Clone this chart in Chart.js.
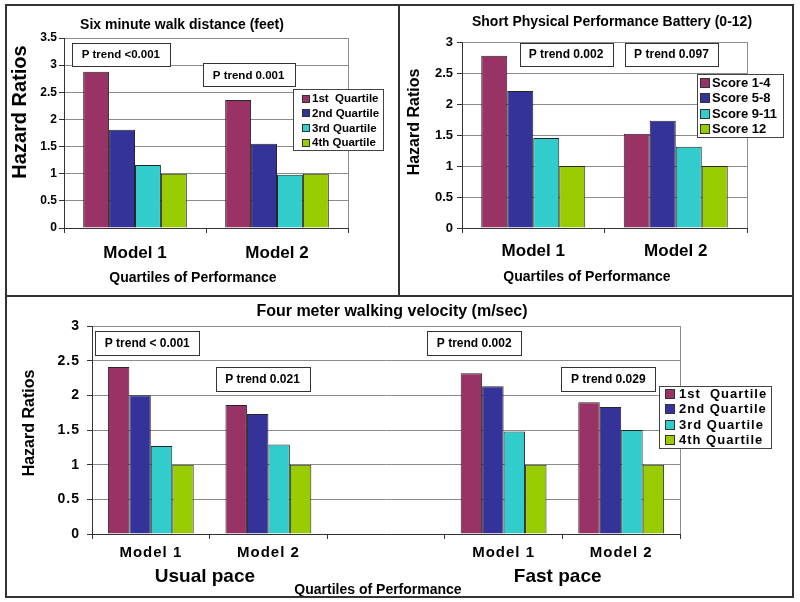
<!DOCTYPE html>
<html>
<head>
<meta charset="utf-8">
<title>Hazard ratios by physical performance</title>
<script src="https://cdn.jsdelivr.net/npm/chart.js@4.4.1/dist/chart.umd.min.js"></script>
<style>
  html, body { margin: 0; padding: 0; background: #fff; }
  body { width: 800px; height: 602px; position: relative; overflow: hidden; }
  canvas { position: absolute; }
  #c1 { left: 7px; top: 6px; }
  #c2 { left: 401px; top: 6px; }
  #c3 { left: 7px; top: 297px; }
  #frame { position: absolute; left: 5px; top: 4px; width: 789px; height: 594px; border: 2px solid #333; box-sizing: border-box; z-index: 2; }
  .rule { position: absolute; background: #333; z-index: 2; }
</style>
</head>
<body>
<div id="frame"></div>
<div class="rule" style="left:5px;top:295px;width:789px;height:2px"></div>
<div class="rule" style="left:398px;top:4px;width:2px;height:292px"></div>
<canvas id="c1" width="392" height="289"></canvas>
<canvas id="c2" width="391" height="289"></canvas>
<canvas id="c3" width="785" height="300"></canvas>
<script>
// six minute walk
const walkModels = ['Model 1', 'Model 2'];
const walkNames = ['1st  Quartile', '2nd Quartile', '3rd Quartile', '4th Quartile'];
const walkQ1 = [2.88, 2.36];
const walkQ2 = [1.81, 1.55];
const walkQ3 = [1.16, 0.98];
const walkQ4 = [1.00, 1.00];
const walkTicks = [0, 0.5, 1, 1.5, 2, 2.5, 3, 3.5];
const walkTrend = ['P trend <0.001', 'P trend 0.001'];

// SPPB
const sppbModels = ['Model 1', 'Model 2'];
const sppbNames = ['Score 1-4', 'Score 5-8', 'Score 9-11', 'Score 12'];
const sppbS1 = [2.78, 1.52];
const sppbS2 = [2.21, 1.73];
const sppbS3 = [1.45, 1.31];
const sppbS4 = [1.00, 1.00];
const sppbTicks = [0, 0.5, 1, 1.5, 2, 2.5, 3];
const sppbTrend = ['P trend 0.002', 'P trend 0.097'];

// four meter walking velocity (usual pace, gap, fast pace)
const speedModels = ['Model 1', 'Model 2', '', 'Model 1', 'Model 2'];
const speedNames = ['1st  Quartile', '2nd Quartile', '3rd Quartile', '4th Quartile'];
const speedQ1 = [2.41, 1.86, null, 2.32, 1.90];
const speedQ2 = [2.00, 1.73, null, 2.13, 1.83];
const speedQ3 = [1.27, 1.29, null, 1.48, 1.50];
const speedQ4 = [1.00, 1.00, null, 1.00, 1.00];
const speedTicks = [0, 0.5, 1, 1.5, 2, 2.5, 3];
const speedTrend = ['P trend < 0.001', 'P trend 0.021', 'P trend 0.002', 'P trend 0.029'];
const paceNames = ['Usual pace', 'Fast pace'];

const barColors = ['#993366', '#333399', '#33cccc', '#99cc00'];
const FONT = "'Liberation Sans', Arial, sans-serif";

Chart.defaults.font.family = FONT;
Chart.defaults.font.weight = 'bold';
Chart.defaults.color = '#000';

function bold(size) { return 'bold ' + size + 'px ' + FONT; }

// titles, p-trend boxes and the boxed legend
const decor = {
  id: 'decor',
  beforeDraw(chart, args, o) {
    // the bottom panel's axis text is spaced out in the original
    chart.ctx.letterSpacing = (o.spacing || 0) + 'px';
  },
  afterDraw(chart, args, o) {
    const ctx = chart.ctx, ca = chart.chartArea;
    const xs = chart.scales.x, ys = chart.scales.y;
    ctx.save();
    ctx.letterSpacing = '0px';
    ctx.strokeStyle = '#8c8c8c';
    ctx.lineWidth = 1;
    ctx.beginPath();
    ctx.moveTo(Math.round(ca.right) + 0.5, ca.top);
    ctx.lineTo(Math.round(ca.right) + 0.5, ca.bottom);
    ctx.stroke();

    ctx.fillStyle = '#000';
    ctx.textAlign = 'center';
    ctx.textBaseline = 'middle';
    ctx.font = bold(o.title.size);
    ctx.fillText(o.title.text, o.title.x, o.title.y);
    ctx.font = bold(o.xTitle.size);
    ctx.fillText(o.xTitle.text, o.xTitle.x, o.xTitle.y);
    ctx.save();
    ctx.translate(o.yTitle.x, o.yTitle.y);
    ctx.rotate(-Math.PI / 2);
    ctx.font = bold(o.yTitle.size);
    ctx.fillText(o.yTitle.text, 0, 0);
    ctx.restore();

    (o.extra || []).forEach(e => {
      ctx.font = bold(e.size);
      ctx.fillText(e.text, xs.getPixelForValue(e.cat), e.y);
    });

    ctx.font = bold(o.boxFont);
    o.boxes.forEach(b => {
      const cx = xs.getPixelForValue(b.cat), cy = ys.getPixelForValue(b.val);
      const w = Math.round(ctx.measureText(b.text).width + 2 * o.boxPad);
      const l = Math.round(cx - w / 2) + 0.5, t = Math.round(cy - o.boxH / 2) + 0.5;
      ctx.fillStyle = '#fff';
      ctx.fillRect(l, t, w, o.boxH);
      ctx.strokeStyle = '#333';
      ctx.strokeRect(l, t, w, o.boxH);
      ctx.fillStyle = '#000';
      ctx.fillText(b.text, cx, cy + 0.5);
    });

    const lg = o.legend;
    ctx.fillStyle = '#fff';
    ctx.fillRect(lg.x + 0.5, lg.y + 0.5, lg.w, lg.h);
    ctx.strokeStyle = '#444';
    ctx.strokeRect(lg.x + 0.5, lg.y + 0.5, lg.w, lg.h);
    ctx.textAlign = 'left';
    ctx.font = bold(lg.size);
    if (lg.spacing) ctx.letterSpacing = lg.spacing + 'px';
    chart.data.datasets.forEach((ds, i) => {
      const ry = lg.y + lg.row0 + i * lg.rowH;
      ctx.fillStyle = ds.backgroundColor;
      ctx.fillRect(lg.x + lg.swX, Math.round(ry - lg.sw / 2), lg.sw, lg.sw);
      ctx.strokeStyle = '#333';
      ctx.strokeRect(lg.x + lg.swX + 0.5, Math.round(ry - lg.sw / 2) + 0.5, lg.sw - 1, lg.sw - 1);
      ctx.fillStyle = '#000';
      ctx.fillText(ds.label, lg.x + lg.txtX, ry + 0.5);
    });
    ctx.restore();
  }
};

function buildChart(id, labels, series, names, ticks, cfg) {
  return new Chart(document.getElementById(id), {
    type: 'bar',
    data: {
      labels: labels,
      datasets: series.map((s, i) => ({
        label: names[i],
        data: s,
        backgroundColor: barColors[i],
        borderColor: '#262626',
        borderWidth: 1,
        categoryPercentage: 0.73,
        barPercentage: 1
      }))
    },
    options: {
      responsive: false,
      animation: false,
      devicePixelRatio: 1,
      layout: { padding: { top: cfg.top, right: cfg.right, left: 0, bottom: 0 } },
      plugins: {
        legend: { display: false },
        tooltip: { enabled: false },
        decor: cfg.decor
      },
      scales: {
        x: {
          grid: { display: true, drawOnChartArea: false, drawTicks: true, tickLength: 5, color: '#333', offset: true },
          border: { color: '#333', width: 1 },
          ticks: { font: { size: cfg.xFont, weight: 'bold' }, padding: cfg.xPad, color: '#000', maxRotation: 0, autoSkip: false },
          afterFit: s => { s.height = cfg.xHeight; }
        },
        y: {
          min: 0,
          max: ticks[ticks.length - 1],
          afterBuildTicks: s => { s.ticks = ticks.map(v => ({ value: v })); },
          grid: { color: '#8c8c8c', tickColor: '#333', tickLength: 5 },
          border: { color: '#333', width: 1 },
          ticks: {
            font: { size: cfg.yFont, weight: 'bold' },
            padding: cfg.yPad,
            color: '#000',
            callback: v => String(v)
          },
          afterFit: s => { s.width = cfg.yWidth; }
        }
      }
    },
    plugins: [decor]
  });
}

buildChart('c1', walkModels, [walkQ1, walkQ2, walkQ3, walkQ4], walkNames, walkTicks, {
  top: 32, right: 51, yWidth: 57, xHeight: 67,
  xFont: 17, xPad: 10, yFont: 12, yPad: 2,
  decor: {
    title: { text: 'Six minute walk distance (feet)', x: 175, y: 19, size: 14 },
    yTitle: { text: 'Hazard Ratios', x: 13, y: 106, size: 20 },
    xTitle: { text: 'Quartiles of Performance', x: 186, y: 272, size: 14 },
    boxFont: 11.5, boxH: 23, boxPad: 10,
    boxes: [
      { text: walkTrend[0], cat: -0.1, val: 3.2 },
      { text: walkTrend[1], cat: 0.8, val: 2.82 }
    ],
    legend: { x: 286, y: 83, w: 90, h: 61, sw: 8, swX: 9, txtX: 19, row0: 9.5, rowH: 14.7, size: 11.5 }
  }
});

buildChart('c2', sppbModels, [sppbS1, sppbS2, sppbS3, sppbS4], sppbNames, sppbTicks, {
  top: 36, right: 45, yWidth: 61, xHeight: 67,
  xFont: 17, xPad: 8, yFont: 13, yPad: 4,
  decor: {
    title: { text: 'Short Physical Performance Battery (0-12)', x: 211, y: 16, size: 14 },
    yTitle: { text: 'Hazard Ratios', x: 14, y: 116, size: 16 },
    xTitle: { text: 'Quartiles of Performance', x: 186, y: 271, size: 14 },
    boxFont: 12, boxH: 23, boxPad: 9,
    boxes: [
      { text: sppbTrend[0], cat: 0.23, val: 2.8 },
      { text: sppbTrend[1], cat: 0.97, val: 2.8 }
    ],
    legend: { x: 296, y: 68, w: 86, h: 63, sw: 10, swX: 3, txtX: 15, row0: 8.5, rowH: 15.5, size: 13 }
  }
});

buildChart('c3', speedModels, [speedQ1, speedQ2, speedQ3, speedQ4], speedNames, speedTicks, {
  top: 29, right: 112, yWidth: 85, xHeight: 63,
  xFont: 15, xPad: 5, yFont: 14, yPad: 7,
  decor: {
    spacing: 1,
    title: { text: 'Four meter walking velocity (m/sec)', x: 385, y: 15, size: 16 },
    yTitle: { text: 'Hazard Ratios', x: 23, y: 126, size: 16 },
    xTitle: { text: 'Quartiles of Performance', x: 371, y: 293, size: 14 },
    extra: [
      { text: paceNames[0], cat: 0.46, y: 280, size: 19 },
      { text: paceNames[1], cat: 3.46, y: 280, size: 19 }
    ],
    boxFont: 12, boxH: 24, boxPad: 9.5,
    boxes: [
      { text: speedTrend[0], cat: -0.03, val: 2.75 },
      { text: speedTrend[1], cat: 0.95, val: 2.24 },
      { text: speedTrend[2], cat: 2.75, val: 2.75 },
      { text: speedTrend[3], cat: 3.89, val: 2.24 }
    ],
    legend: { x: 652, y: 89, w: 112, h: 62, sw: 10, swX: 6, txtX: 20, row0: 8, rowH: 15.4, size: 13, spacing: 1 }
  }
});
</script>
</body>
</html>
